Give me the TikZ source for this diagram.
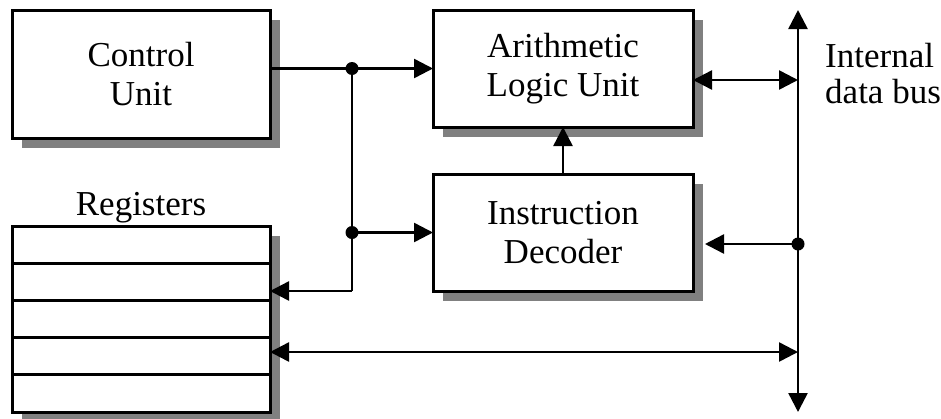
\documentclass[tikz,border=0pt]{standalone}
\usepackage{fontspec}
\setmainfont{Liberation Serif}
\usetikzlibrary{arrows.meta,shadows,calc}
\definecolor{shade}{RGB}{128,128,128}
\begin{document}
\begin{tikzpicture}[x=1pt,y=-1pt,
  box/.style={draw, line width=3pt, fill=white, inner sep=0pt, outer sep=0pt,
    align=center, font=\fontsize{35}{39}\selectfont,
    drop shadow={shadow xshift=10pt, shadow yshift=-10pt, fill=shade, opacity=1}},
  lab/.style={inner sep=0pt, font=\fontsize{35}{39}\selectfont},
  wire/.style={line width=2.5pt},
  tip/.style={-{Triangle[length=19pt,width=19pt]}},
  both/.style={{Triangle[length=19pt,width=19pt]}-{Triangle[length=19pt,width=19pt]}}
]
\useasboundingbox (0,0) rectangle (941,418);
\fill[white] (0,0) rectangle (941,418);

\node[box, minimum width=258pt, minimum height=128pt] (CU) at (141,74) {Control\\Unit};
\node[box, minimum width=260pt, minimum height=117pt] (ALU) at (563,68.5) {Arithmetic\\Logic Unit};
\node[box, minimum width=260pt, minimum height=117pt] (ID) at (563,232.5) {Instruction\\Decoder};
\node[box, minimum width=258pt, minimum height=186pt] (reg) at (141,319) {};
\foreach \f in {0.2,0.4,0.6,0.8}
  \draw[line width=3pt] ($(reg.north west)!\f!(reg.south west)$) -- ($(reg.north east)!\f!(reg.south east)$);

\node[lab, anchor=base] (reglab) at (141,215) {Registers};
\node[lab, anchor=base west] (buslab1) at (825,67) {Internal};
\node[lab, anchor=base west] (buslab2) at (825,103) {data bus};

\coordinate (btop) at (798,10);
\coordinate (bbot) at (798,412);
\coordinate (balu) at (798,80);
\coordinate (bid) at (798,244);
\coordinate (breg) at (798,352);
\coordinate (j1) at (352,68.5);
\coordinate (j2) at (352,232.5);
\coordinate (j3) at (352,291);
\coordinate (idin) at (705,244);

\draw[wire] (CU.east |- j1) -- (j1);
\draw[wire,tip] (j1) -- (ALU.west);
\draw[wire] (j1) -- (j3);
\draw[wire,tip] (j3) -- (reg.east |- j3);
\draw[wire,tip] (j2) -- (ID.west);
\draw[wire,tip] (ID.north) -- (ALU.south);
\draw[wire,both] (btop) -- (bbot);
\draw[wire,both] (ALU.east |- balu) -- (balu);
\draw[wire,tip] (bid) -- (idin);
\draw[wire,both] (reg.east |- breg) -- (breg);

\fill (j1) circle (6.5pt);
\fill (j2) circle (6.5pt);
\fill (bid) circle (6.5pt);
\end{tikzpicture}
\end{document}
